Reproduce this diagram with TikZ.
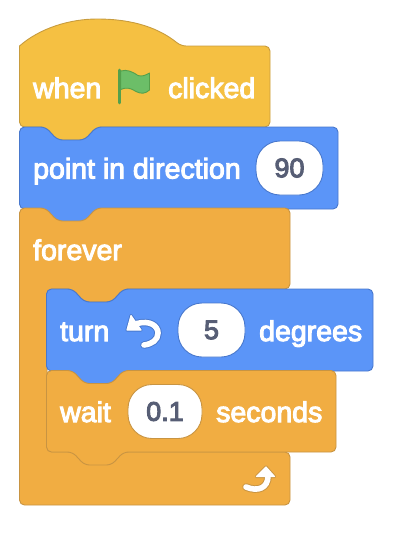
\documentclass[tikz,border=0pt]{standalone}
\usepackage{fontspec}
\setmainfont{Liberation Sans}[FakeBold=3.5]
\usetikzlibrary{positioning}
\definecolor{HatFill}{RGB}{245,192,66}
\definecolor{HatLine}{RGB}{200,156,62}
\definecolor{MotionFill}{RGB}{91,149,248}
\definecolor{MotionLine}{RGB}{72,120,205}
\definecolor{ControlFill}{RGB}{241,173,66}
\definecolor{ControlLine}{RGB}{200,148,66}
\definecolor{FlagFill}{RGB}{108,190,104}
\definecolor{FlagLine}{RGB}{84,160,76}
\definecolor{ValueText}{RGB}{87,94,117}
% tab on a block edge, run left to right or right to left
\newcommand{\tabright}{-- ++(12,13) -- ++(27,0) -- ++(12,-13)}
\newcommand{\tableft}{-- ++(-12,13) -- ++(-27,0) -- ++(-12,-13)}

\begin{document}
\begin{tikzpicture}[x=1pt,y=-1pt]
        \tikzset{hat/.style={draw=HatLine,fill=HatFill,line width=0.9pt,rounded corners=5pt},
          motion/.style={draw=MotionLine,fill=MotionFill,line width=0.9pt,rounded corners=5pt},
          control/.style={draw=ControlLine,fill=ControlFill,line width=0.9pt,rounded corners=5pt},
          word/.style={text=white,font=\fontsize{28.5}{30}\selectfont,anchor=base west,inner sep=0pt},
          pill/.style={fill=white,line width=0.9pt,rounded corners=24pt,text=ValueText,font=\fontsize{27}{30}\selectfont,inner sep=0pt,minimum height=54pt},
          iconedge/.style={line width=7.5pt,line cap=round},
          iconcore/.style={draw=white,line width=5.6pt,line cap=round}}
        \useasboundingbox (0,0) rectangle (408,536);
        % hat
        \draw[hat] (19.5,90) -- (19.5,127) -- (45.5,127) \tabright -- (270,127) -- (270,46) -- (181,46) {[sharp corners] .. controls (160,29) and (135,19) .. (97,19) .. controls (70,19) and (40,28) .. (19.5,46)} -- cycle;
        % point in direction
        \draw[motion] (19.5,170) -- (19.5,127) -- (45.5,127) \tabright -- (338,127) -- (338,209) -- (96.5,209) \tableft -- (19.5,209) -- cycle;
        % forever
        \draw[control] (19.5,250) -- (19.5,208) -- (45.5,208) \tabright -- (290,208) -- (290,289) -- (123.5,289) \tableft -- (47,289) -- (47,452) -- (290,452) -- (290,505) -- (19.5,505) -- cycle;
        % turn
        \draw[motion] (46.5,330) -- (46.5,289) -- (72.5,289) \tabright -- (373,289) -- (373,371) -- (123.5,371) \tableft -- (46.5,371) -- cycle;
        % wait
        \draw[control] (46.5,410) -- (46.5,370.5) -- (72.5,370.5) \tabright -- (336,370.5) -- (336,452) -- (123.5,452) \tableft -- (46.5,452) -- cycle;

        \node[word] (when) at (33,98) {when};
        \node[word] (clicked) at (168,98) {clicked};
        \node[word] (point) at (33,178.5) {point in direction};
        \node[word] (forever) at (33,260) {forever};
        \node[word] (turn) at (60,341) {turn};
        \node[word] (degrees) at (259,341) {degrees};
        \node[word] (wait) at (60,422) {wait};
        \node[word] (seconds) at (216,422) {seconds};

        \node[pill,draw=MotionLine,minimum width=67pt] (angle) at (289.5,168) {90};
        \node[pill,draw=MotionLine,minimum width=67pt] (amount) at (211.5,330) {5};
        \node[pill,draw=ControlLine,minimum width=74pt] (delay) at (165,411.5) {0.1};

        % flag
        \draw[FlagLine,line width=2.6pt,line cap=round] (119.5,70) -- (119.5,103);
        \draw[draw=FlagLine,fill=FlagFill,line width=0.9pt,line join=round] (120.6,71) .. controls (127,69) and (133,72) .. (138,75.5) .. controls (142,77) and (146,75) .. (149.5,73) -- (149.5,90) .. controls (145,94) and (141,94) .. (136,91.5) .. controls (131,88) and (126,87) .. (120.6,89.5) -- cycle;

        % turn icon
        \draw[MotionLine,iconedge] (137,323.5) .. controls (150,320) and (158,326) .. (158,333) .. controls (158,340) and (152,344) .. (144,345);
        \draw[draw=MotionLine,fill=white,line width=3pt,line join=round] (131,315.5) -- (127,330) -- (141,330) -- cycle;
        \draw[iconcore] (137,323.5) .. controls (150,320) and (158,326) .. (158,333) .. controls (158,340) and (152,344) .. (144,345);
        \draw[fill=white,draw=white,line width=1.2pt,line join=round] (131,315.5) -- (127,330) -- (141,330) -- cycle;

        % repeat icon
        \draw[ControlLine,iconedge] (246,487) .. controls (258,492) and (268,488) .. (268,476);
        \draw[draw=ControlLine,fill=white,line width=3pt,line join=round] (266,467) -- (256.5,476.5) -- (274.5,476.5) -- cycle;
        \draw[iconcore] (246,487) .. controls (258,492) and (268,488) .. (268,476);
        \draw[fill=white,draw=white,line width=1.2pt,line join=round] (266,467) -- (256.5,476.5) -- (274.5,476.5) -- cycle;
      \end{tikzpicture}
\end{document}
